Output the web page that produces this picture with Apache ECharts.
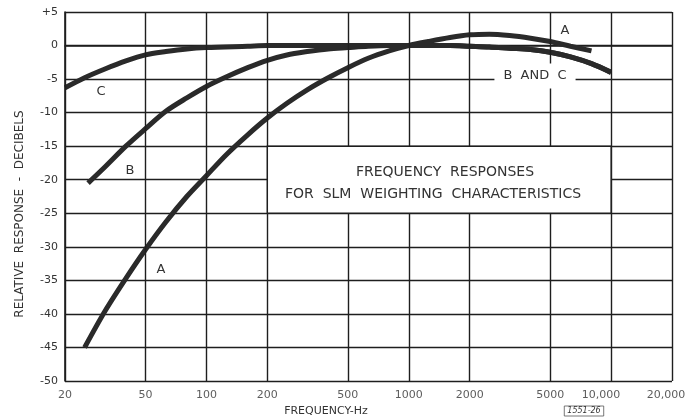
<!DOCTYPE html>
<html>
<head>
<meta charset="utf-8">
<script src="https://cdn.jsdelivr.net/npm/echarts@6/dist/echarts.min.js"></script>
<style>
html, body { margin: 0; padding: 0; background: #fff; }
#chart { width: 687px; height: 418px; }
</style>
</head>
<body>
<div id="chart"></div>
<script>
// frequency grid (Hz) and its labels
const freqTicks = [20, 50, 100, 200, 500, 1000, 2000, 5000, 10000, 20000];
const freqLabels = ["20", "50", "100", "200", "500", "1000", "2000", "5000", "10,000", "20,000"];
// small nudges so the labels sit like in the original drawing
const freqLabelShift = [0, 0, 0, 0, 0, 0, 0, 0, -10, -6];

// weighting curves: [Hz, dB]
const curveA = [
  [25, -45.0], [31.5, -39.6], [40, -34.7], [50, -30.4], [63, -26.3], [80, -22.5],
  [100, -19.4], [125, -16.3], [160, -13.3], [200, -10.8], [250, -8.6], [315, -6.6],
  [400, -4.8], [500, -3.3], [630, -1.9], [800, -0.8], [1000, 0], [1250, 0.6],
  [1600, 1.2], [2000, 1.6], [2500, 1.7], [3150, 1.5], [4000, 1.1], [5000, 0.6],
  [6300, -0.1], [8000, -0.8]
];
const curveB = [
  [26, -20.5], [31.5, -18.1], [40, -15.0], [50, -12.4], [63, -9.8], [80, -7.8],
  [100, -6.1], [125, -4.7], [160, -3.3], [200, -2.2], [250, -1.4], [315, -0.9],
  [400, -0.5], [500, -0.3], [630, -0.1], [800, 0], [1000, 0], [1600, 0],
  [2000, -0.1], [2500, -0.2], [3150, -0.4], [4000, -0.6], [5000, -1.0],
  [6300, -1.7], [8000, -2.7], [10000, -4.0]
];
const curveC = [
  [20, -6.3], [25, -4.8], [31.5, -3.5], [40, -2.3], [50, -1.4], [63, -0.9],
  [80, -0.5], [100, -0.3], [160, -0.1], [200, 0], [500, 0], [1000, 0], [1600, 0],
  [2000, -0.1], [2500, -0.2], [3150, -0.4], [4000, -0.6], [5000, -1.0],
  [6300, -1.7], [8000, -2.7], [10000, -4.0]
];

const ink = "#1e1e1e";
const textInk = "#333";
const font = "DejaVu Sans";

let myChart = echarts.init(document.getElementById("chart"));

function curve(name, data) {
  return {
    name: name,
    type: "line",
    data: data,
    smooth: 0.3,
    symbol: "none",
    z: 3,
    lineStyle: { color: "#2a2a2a", width: 5 },
    animation: false
  };
}

function txt(x, y, text, size, extraStyle, extra) {
  return Object.assign({
    type: "text",
    x: x,
    y: y,
    z: 100,
    style: Object.assign({
      text: text,
      font: size + "px '" + font + "'",
      fill: textInk,
      align: "center",
      verticalAlign: "middle"
    }, extraStyle || {})
  }, extra || {});
}

let option = {
  backgroundColor: "#fff",
  animation: false,
  grid: { left: 65, right: 15, top: 12, bottom: 37 },
  xAxis: {
    type: "log",
    logBase: 10,
    min: 20,
    max: 20000,
    axisLine: { show: true, lineStyle: { color: ink, width: 1.6 } },
    axisTick: { show: false },
    axisLabel: { show: false },
    splitLine: { show: false }
  },
  yAxis: {
    type: "value",
    min: -50,
    max: 5,
    interval: 5,
    axisLine: { show: true, lineStyle: { color: ink, width: 1.6 } },
    axisTick: { show: false },
    axisLabel: {
      color: textInk,
      fontFamily: font,
      fontSize: 11,
      margin: 7,
      formatter: v => (v > 0 ? "+" + v : String(v))
    },
    splitLine: { show: true, lineStyle: { color: ink, width: 1.4 } }
  },
  series: [
    {
      name: "freq-labels",
      type: "scatter",
      symbolSize: 1,
      itemStyle: { color: "rgba(0,0,0,0)" },
      silent: true,
      z: 1,
      data: freqTicks.map((f, i) => ({
        value: [f, -50],
        label: { formatter: freqLabels[i], offset: [freqLabelShift[i], 0] }
      })),
      label: {
        show: true,
        position: "bottom",
        distance: 8,
        color: textInk,
        fontFamily: font,
        fontSize: 11
      },
      markLine: {
        silent: true,
        symbol: "none",
        animation: false,
        label: { show: false },
        lineStyle: { color: ink, width: 1.4, type: "solid" },
        data: freqTicks.map(f => [{ coord: [f, -50] }, { coord: [f, 5] }])
      }
    },
    {
      name: "title-box",
      type: "line",
      data: [],
      markArea: {
        silent: true,
        z: 8,
        itemStyle: { color: "#fff", borderColor: ink, borderWidth: 1.4 },
        data: [[{ coord: [200, -15] }, { coord: [10000, -25] }]]
      }
    },
    curve("A", curveA),
    curve("B", curveB),
    curve("C", curveC)
  ],
  graphic: [
    txt(445, 172, "FREQUENCY  RESPONSES", 14),
    txt(433, 194, "FOR  SLM  WEIGHTING  CHARACTERISTICS", 14),
    txt(565, 31, "A", 13),
    txt(535, 76, "B  AND  C", 13, {
      backgroundColor: "#fff",
      padding: [5, 9, 7, 9]
    }),
    txt(101, 92, "C", 13),
    txt(130, 171, "B", 13),
    txt(161, 270, "A", 13),
    txt(326, 411, "FREQUENCY-Hz", 11),
    txt(20, 214, "RELATIVE  RESPONSE  -  DECIBELS", 12, null, { rotation: Math.PI / 2 }),
    txt(584, 411, "1551-26", 8, {
      font: "italic 8px '" + font + "'",
      borderColor: "#555",
      borderWidth: 0.8,
      padding: [1, 3, 1, 3]
    })
  ]
};

myChart.setOption(option);
window.addEventListener("resize", () => {
  myChart.resize();
});
</script>
</body>
</html>
